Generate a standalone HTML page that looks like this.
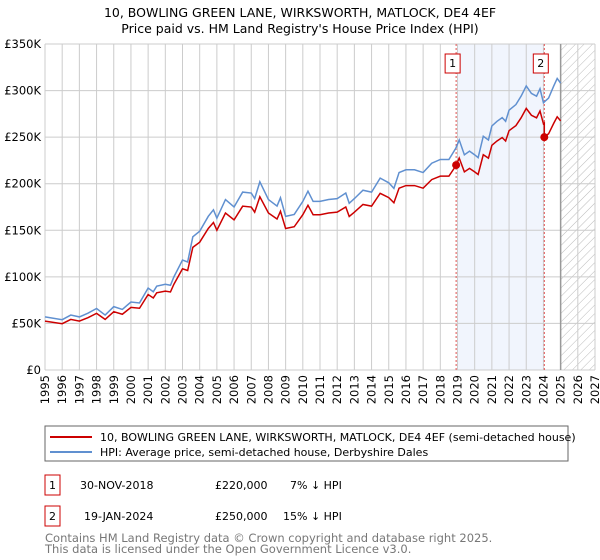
<!DOCTYPE html>
<html><head><meta charset="utf-8"><style>
body{margin:0;width:600px;height:560px;background:#fff;font-family:"Liberation Sans","DejaVu Sans",sans-serif;overflow:hidden}
svg{position:absolute;left:0;top:0}
text{font-family:"DejaVu Sans","Liberation Sans",sans-serif}
</style></head><body>
<svg id="chart" width="600" height="560">
<defs><pattern id="hatch" width="6" height="6" patternUnits="userSpaceOnUse" patternTransform="rotate(45)"><line x1="0" y1="0" x2="0" y2="6" stroke="#bbb" stroke-width="1"/></pattern></defs>
<text x="300" y="17" text-anchor="middle" font-size="12.5" fill="#000">10, BOWLING GREEN LANE, WIRKSWORTH, MATLOCK, DE4 4EF</text>
<text x="300" y="33" text-anchor="middle" font-size="12.5" fill="#000">Price paid vs. HM Land Registry's House Price Index (HPI)</text>
<g id="plot"></g>
<rect x="45" y="426" width="523" height="35" fill="none" stroke="#666"/>
<line x1="50" y1="437" x2="92" y2="437" stroke="#cc0000" stroke-width="2"/>
<text x="100" y="441" font-size="11">10, BOWLING GREEN LANE, WIRKSWORTH, MATLOCK, DE4 4EF (semi-detached house)</text>
<line x1="50" y1="452" x2="92" y2="452" stroke="#6090d0" stroke-width="2"/>
<text x="100" y="456" font-size="11">HPI: Average price, semi-detached house, Derbyshire Dales</text>
<g>
<rect x="45" y="475" width="15" height="20" fill="none" stroke="#cc0000"/>
<text x="52.5" y="489" text-anchor="middle" font-size="11">1</text>
<text x="80" y="489" font-size="11">30-NOV-2018</text>
<text x="215" y="489" font-size="11">£220,000</text>
<text x="290" y="489" font-size="11">7% ↓ HPI</text></g>
<g>
<rect x="45" y="506" width="15" height="20" fill="none" stroke="#cc0000"/>
<text x="52.5" y="520" text-anchor="middle" font-size="11">2</text>
<text x="84" y="520" font-size="11">19-JAN-2024</text>
<text x="215" y="520" font-size="11">£250,000</text>
<text x="283" y="520" font-size="11">15% ↓ HPI</text></g>
<text x="45" y="542" font-size="11.5" fill="#777">Contains HM Land Registry data © Crown copyright and database right 2025.</text>
<text x="45" y="553" font-size="11.5" fill="#777">This data is licensed under the Open Government Licence v3.0.</text>
</svg>
<script>
const hpiYears=[1995,1996,1996.5,1997,1997.5,1998,1998.5,1999,1999.5,2000,2000.5,2001,2001.3,2001.5,2002,2002.3,2002.5,2003,2003.3,2003.6,2004,2004.5,2004.8,2005,2005.5,2006,2006.5,2007,2007.2,2007.5,2008,2008.5,2008.7,2009,2009.5,2010,2010.3,2010.6,2011,2011.5,2012,2012.5,2012.7,2013,2013.5,2014,2014.5,2015,2015.3,2015.6,2016,2016.5,2017,2017.5,2018,2018.5,2018.9,2019.1,2019.4,2019.7,2020,2020.2,2020.5,2020.8,2021,2021.3,2021.6,2021.8,2022,2022.4,2022.7,2023,2023.3,2023.6,2023.8,2024,2024.3,2024.6,2024.8,2025];
const hpiValues=[57,54,59,57,61,66,59,68,65,73,72,88,84,90,92,91,100,118,116,143,149,165,172,163,183,175,191,190,184,202,183,176,185,165,167,181,192,181,181,183,184,190,179,184,193,191,206,201,195,212,215,215,212,222,226,226,238,247,231,235,231,228,251,247,262,267,271,267,279,285,294,305,297,294,302,287,292,305,313,308];
const saleYears=[2018.92,2024.05];
const salePrices=[220,250];
const saleLabels=["1","2"];
const yTicks=[0,50,100,150,200,250,300,350];
const yTickLabels=["£0","£50K","£100K","£150K","£200K","£250K","£300K","£350K"];
const xTicks=[1995,1996,1997,1998,1999,2000,2001,2002,2003,2004,2005,2006,2007,2008,2009,2010,2011,2012,2013,2014,2015,2016,2017,2018,2019,2020,2021,2022,2023,2024,2025,2026,2027];
const ns="http://www.w3.org/2000/svg";
const X0=45,X1=595,Y0=370,Y1=44;
const xs=y=>X0+(y-1995)/(2027-1995)*(X1-X0);
const ys=v=>Y0-v/350*(Y0-Y1);
const g=document.getElementById('plot');
function mk(t,a){const e=document.createElementNS(ns,t);for(const k in a)e.setAttribute(k,a[k]);g.appendChild(e);return e;}
function hpiAt(y){for(let i=1;i<hpiYears.length;i++){if(y<=hpiYears[i]){const t=(y-hpiYears[i-1])/(hpiYears[i]-hpiYears[i-1]);return hpiValues[i-1]+t*(hpiValues[i]-hpiValues[i-1]);}}return hpiValues[hpiValues.length-1];}
let e;
e=mk('rect',{x:xs(saleYears[0])+1,y:Y1,width:xs(saleYears[1])-xs(saleYears[0])-1,height:Y0-Y1,fill:'#eef3fc',opacity:0.8});


e=mk('rect',{x:xs(2025),y:Y1,width:X1-xs(2025),height:Y0-Y1,fill:'url(#hatch)'});


xTicks.forEach(t=>{e=mk('line',{x1:xs(t),x2:xs(t),y1:Y1,y2:Y0,stroke:'#ccc'});


const tx=xs(t)+4,ty=Y0+5;
e=mk('text',{x:tx,y:ty,'text-anchor':'end','font-size':11.5,transform:'rotate(-90 '+tx+' '+ty+')'});e.textContent=t;

});
yTicks.forEach((t,i)=>{e=mk('line',{x1:X0,x2:X1,y1:ys(t),y2:ys(t),stroke:'#ccc'});


e=mk('text',{x:X0-4,y:ys(t)+4,'text-anchor':'end','font-size':11.5});e.textContent=yTickLabels[i];

});
e=mk('line',{x1:xs(2025),x2:xs(2025),y1:Y1,y2:Y0,stroke:'#999','stroke-width':1.5});


saleYears.forEach((s,i)=>{e=mk('line',{x1:xs(s),x2:xs(s),y1:Y1,y2:Y0,stroke:'#e05050','stroke-dasharray':'2,2'});

});
e=mk('polyline',{points:hpiYears.map((y,i)=>xs(y)+','+ys(hpiValues[i])).join(' '),fill:'none',stroke:'#6090d0','stroke-width':1.5});


const r1=salePrices[0]/hpiAt(saleYears[0]),r2=salePrices[1]/hpiAt(saleYears[1]);
const pts=[];
hpiYears.forEach((y,i)=>{if(y<saleYears[1])pts.push([y,hpiValues[i]*r1]);});
pts.push([saleYears[1],hpiAt(saleYears[1])*r1]);pts.push([saleYears[1],salePrices[1]]);
hpiYears.forEach((y,i)=>{if(y>saleYears[1])pts.push([y,hpiValues[i]*r2]);});
e=mk('polyline',{points:pts.map(p=>xs(p[0])+','+ys(p[1])).join(' '),fill:'none',stroke:'#cc0000','stroke-width':1.5});


saleYears.forEach((s,i)=>{e=mk('circle',{cx:xs(s),cy:ys(salePrices[i]),r:4,fill:'#cc0000'});


e=mk('rect',{x:xs(s)-11,y:54,width:15,height:19,fill:'#fff',stroke:'#cc0000'});


e=mk('text',{x:xs(s)-3.5,y:67,'text-anchor':'middle','font-size':11});e.textContent=saleLabels[i];

});
</script>
</body></html>
